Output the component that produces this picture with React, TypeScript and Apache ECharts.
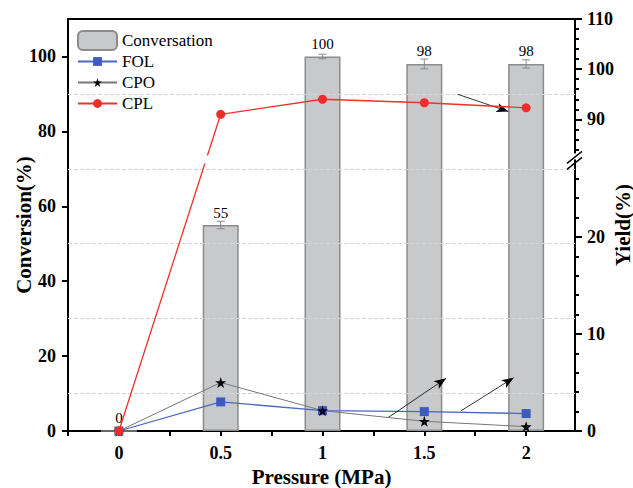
import React, { useEffect, useRef } from "react";
import * as echarts from "echarts";

// ---- data ----
const pressure = [0, 0.5, 1, 1.5, 2];
const conversion = [0, 55, 100, 98, 98];
const conversionErr = [0, 1.0, 0.6, 1.3, 1.1];
const fol = [0, 3.0, 2.1, 2.0, 1.8];
const cpo = [0, 5.0, 2.1, 1.0, 0.45];
const cpl = [0, 91.0, 94.0, 93.3, 92.3];

const leftTicks = [0, 20, 40, 60, 80, 100];
const gridLineValues = [10, 30, 50, 70, 90];
const xLabelValues = [0, 0.5, 1, 1.5, 2];
const yieldMajor = [0, 10, 20, 90, 100, 110];
const yieldMinor = [2, 4, 6, 8, 12, 14, 16, 18, 22, 24, 26, 84, 86, 88, 92, 94, 96, 98, 102, 104, 106, 108];

// annotation arrows, in [pressure, conversion] coordinates
const arrows = [
  [[1.664, 89.9], [1.913, 85.3]],
  [[1.321, 3.55], [1.607, 14.07]],
  [[1.681, 5.42], [1.939, 14.23]],
];

// broken yield axis: 0–28 (lower) and 82–110 (upper), drawn on the 0–110 frame
const LOW_MAX = 28;
const HIGH_MIN = 82;
const BREAK_D = 72.5;
const FRAME_MAX = 110;
const toDisplay = (y: number) =>
  y <= LOW_MAX
    ? (y * BREAK_D) / LOW_MAX
    : BREAK_D + ((y - HIGH_MIN) * (FRAME_MAX - BREAK_D)) / (FRAME_MAX - HIGH_MIN);

const SERIF = "'Liberation Serif', 'Times New Roman', serif";

export default function App() {
  const ref = useRef<HTMLDivElement>(null);
  useEffect(() => {
    if (!ref.current) return;
    const chart = echarts.init(ref.current, undefined, { renderer: "svg" });
    const tickLabelStyle = { fontFamily: SERIF, fontWeight: "bold", fontSize: 18, color: "#000" };
    const nameStyle = { fontFamily: SERIF, fontWeight: "bold", fontSize: 21, color: "#000" };
    const majorDisp = yieldMajor.map(toDisplay);
    const minorDisp = yieldMinor.map(toDisplay);

    const option: any = {
      animation: false,
      backgroundColor: "#fff",
      grid: {
        left: 68,
        right: 58,
        top: 19,
        bottom: 57,
        outerBoundsMode: "none",
        containLabel: false,
        show: true,
        borderColor: "#000",
        borderWidth: 2,
        backgroundColor: "transparent",
      },
      legend: [
        {
          data: ["Conversation"],
          left: 77,
          top: 30,
          padding: 0,
          itemWidth: 39,
          itemHeight: 19,
          textStyle: { fontFamily: SERIF, fontSize: 17, color: "#000" },
          selectedMode: false,
        },
        {
          data: ["FOL", "CPO", "CPL"],
          orient: "vertical",
          left: 77,
          top: 53,
          padding: 0,
          itemWidth: 39,
          itemHeight: 11,
          itemGap: 4,
          textStyle: { fontFamily: SERIF, fontSize: 17, color: "#000" },
          selectedMode: false,
        },
      ],
      xAxis: {
        type: "value",
        min: -0.25,
        max: 2.24,
        interval: 0.25,
        name: "Pressure (MPa)",
        nameLocation: "middle",
        nameGap: 35,
        nameTextStyle: nameStyle,
        axisLine: { onZero: false, lineStyle: { color: "#000", width: 2 } },
        axisTick: { inside: false, length: 5, lineStyle: { color: "#000", width: 2 } },
        axisLabel: {
          ...tickLabelStyle,
          margin: 13,
          showMaxLabel: false,
          formatter: (v: number) =>
            xLabelValues.some((x) => Math.abs(x - v) < 1e-6) ? String(Math.round(v * 10) / 10) : "",
        },
        splitLine: { show: false },
      },
      yAxis: [
        {
          type: "value",
          min: 0,
          max: 110,
          name: "Conversion(%)",
          nameLocation: "middle",
          nameGap: 34,
          nameRotate: 90,
          nameMoveOverlap: false,
          nameTextStyle: nameStyle,
          axisLine: { show: true, onZero: false, lineStyle: { color: "#000", width: 2 } },
          axisTick: { show: true, length: 6, customValues: leftTicks, lineStyle: { color: "#000", width: 2 } },
          axisLabel: { ...tickLabelStyle, margin: 12, customValues: leftTicks },
          splitLine: { show: false },
        },
        {
          type: "value",
          position: "right",
          min: 0,
          max: 110,
          name: "Yield(%)",
          nameLocation: "middle",
          nameGap: 37,
          nameRotate: 90,
          nameMoveOverlap: false,
          nameTextStyle: nameStyle,
          axisLine: { show: true, onZero: false, lineStyle: { color: "#000", width: 2 } },
          axisTick: { show: true, length: 7, customValues: majorDisp, lineStyle: { color: "#000", width: 2 } },
          axisLabel: {
            ...tickLabelStyle,
            margin: 12,
            customValues: majorDisp,
            formatter: (v: number) => {
              const i = majorDisp.findIndex((d) => Math.abs(d - v) < 1e-6);
              return i >= 0 ? String(yieldMajor[i]) : "";
            },
          },
          splitLine: { show: false },
        },
        {
          type: "value",
          position: "right",
          min: 0,
          max: 110,
          axisLine: { show: false, onZero: false },
          axisTick: { show: true, length: 4, customValues: minorDisp, lineStyle: { color: "#000", width: 2 } },
          axisLabel: { show: false },
          splitLine: { show: false },
        },
      ],
      series: [
        {
          name: "gridlines",
          type: "line",
          data: [],
          z: 1,
          silent: true,
          markLine: {
            silent: true,
            symbol: "none",
            label: { show: false },
            lineStyle: { color: "#d6d6d6", type: "dashed", width: 1 },
            data: gridLineValues.map((v) => ({ yAxis: v })),
          },
        },
        {
          name: "Conversation",
          type: "bar",
          barWidth: 36,
          z: 2,
          itemStyle: { color: "#c8c9cb", borderColor: "#8c8c8c", borderWidth: 1.5 },
          label: {
            show: true,
            position: "top",
            distance: 5,
            fontFamily: SERIF,
            fontSize: 15,
            color: "#000",
            formatter: (p: any) => String(p.value[1]),
          },
          data: pressure.map((x, i) => [x, conversion[i]]),
        },
        {
          name: "errors",
          type: "custom",
          z: 3,
          silent: true,
          data: pressure.map((x, i) => [x, conversion[i] - conversionErr[i], conversion[i] + conversionErr[i]]),
          renderItem: (params: any, api: any) => {
            const x = api.value(0);
            const lo = api.value(1);
            const hi = api.value(2);
            if (hi - lo <= 0) return { type: "group", children: [] };
            const a = api.coord([x, lo]);
            const b = api.coord([x, hi]);
            const st = { stroke: "#8a8a8a", lineWidth: 1 };
            return {
              type: "group",
              children: [
                { type: "line", shape: { x1: a[0], y1: a[1], x2: b[0], y2: b[1] }, style: st },
                { type: "line", shape: { x1: a[0] - 4, y1: a[1], x2: a[0] + 4, y2: a[1] }, style: st },
                { type: "line", shape: { x1: b[0] - 4, y1: b[1], x2: b[0] + 4, y2: b[1] }, style: st },
              ],
            };
          },
        },
        {
          name: "FOL",
          type: "line",
          z: 4,
          symbol: "rect",
          symbolSize: 9,
          lineStyle: { color: "#4a67c2", width: 1.3 },
          itemStyle: { color: "#3b5bbf" },
          data: pressure.map((x, i) => [x, toDisplay(fol[i])]),
        },
        {
          name: "CPO",
          type: "line",
          z: 5,
          symbol: "path://M50,0 L61.8,36.2 L100,36.2 L69.1,58.8 L80.9,95 L50,72.4 L19.1,95 L30.9,58.8 L0,36.2 L38.2,36.2 Z",
          symbolSize: 11,
          lineStyle: { color: "#777777", width: 1 },
          itemStyle: { color: "#000" },
          data: pressure.map((x, i) => [x, toDisplay(cpo[i])]),
        },
        {
          name: "CPL",
          type: "line",
          z: 6,
          symbol: "circle",
          symbolSize: 9,
          lineStyle: { color: "#f0302e", width: 1.3 },
          itemStyle: { color: "#ee2d2a" },
          data: pressure.map((x, i) => [x, toDisplay(cpl[i])]),
        },
        {
          name: "arrows",
          type: "line",
          data: [],
          z: 7,
          silent: true,
          markLine: {
            silent: true,
            symbol: ["none", "arrow"],
            symbolSize: [7, 12],
            label: { show: false },
            lineStyle: { color: "#000", type: "solid", width: 0.8 },
            data: arrows.map(([s, e]) => [{ coord: s }, { coord: e }]),
          },
        },
      ],
    };
    chart.setOption(option);

    // decorations: axis break marks and the matching gap in the CPL line
    const [xr, yb] = chart.convertToPixel({ xAxisIndex: 0, yAxisIndex: 0 }, [2.24, BREAK_D]) as number[];
    const p0 = chart.convertToPixel({ xAxisIndex: 0, yAxisIndex: 0 }, [pressure[0], toDisplay(cpl[0])]) as number[];
    const p1 = chart.convertToPixel({ xAxisIndex: 0, yAxisIndex: 0 }, [pressure[1], toDisplay(cpl[1])]) as number[];
    const t = (p0[1] - yb) / (p0[1] - p1[1]);
    const gx = p0[0] + t * (p1[0] - p0[0]);
    chart.setOption({
      graphic: [
        { type: "rect", z: 100, shape: { x: xr - 3, y: yb - 6, width: 6, height: 6 }, style: { fill: "#fff" } },
        { type: "line", z: 101, shape: { x1: xr - 8, y1: yb + 4, x2: xr + 7, y2: yb - 8 }, style: { stroke: "#000", lineWidth: 1.5 } },
        { type: "line", z: 101, shape: { x1: xr - 8, y1: yb + 10, x2: xr + 7, y2: yb - 2 }, style: { stroke: "#000", lineWidth: 1.5 } },
        { type: "rect", z: 100, shape: { x: gx - 4, y: yb - 4, width: 8, height: 8 }, style: { fill: "#fff" } },
      ],
    });

    return () => chart.dispose();
  }, []);
  return <div ref={ref} style={{ width: 633, height: 488, position: "absolute", left: 0, top: 0 }} />;
}
